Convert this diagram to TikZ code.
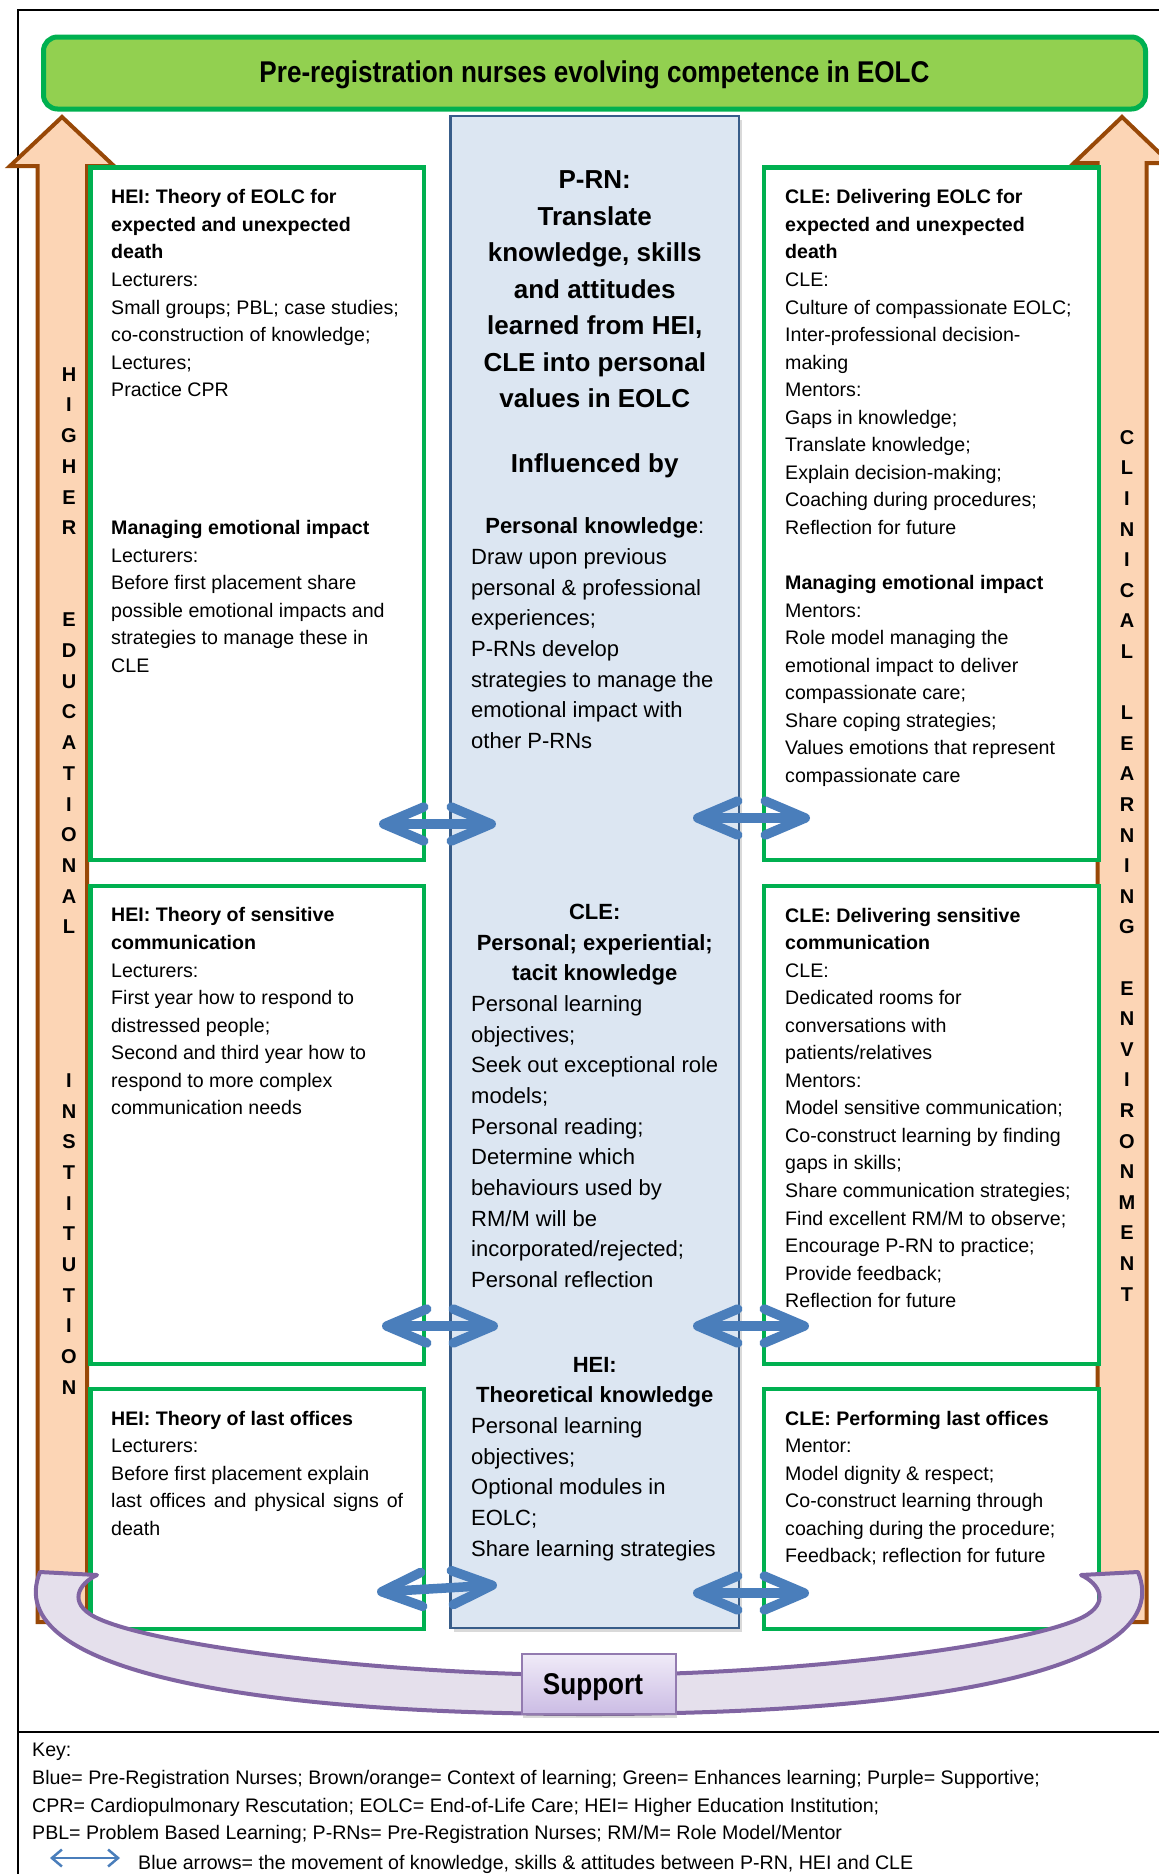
\documentclass[tikz,border=0pt]{standalone}
\usepackage{fontspec}
\usepackage{graphicx}
\setmainfont{Liberation Sans}
\usetikzlibrary{arrows.meta,shadows}
\definecolor{grn}{RGB}{0,176,80}
\definecolor{ltgrn}{RGB}{146,208,80}
\definecolor{peach}{RGB}{252,213,181}
\definecolor{brn}{RGB}{152,72,7}
\definecolor{cfill}{RGB}{220,230,242}
\definecolor{cdraw}{RGB}{56,93,138}
\definecolor{barrow}{RGB}{74,126,187}
\definecolor{pfill}{RGB}{229,224,236}
\definecolor{pdraw}{RGB}{128,100,162}
\definecolor{sTop}{RGB}{240,235,248}
\definecolor{sBot}{RGB}{203,188,228}
\begin{document}
\begin{tikzpicture}[x=1pt,y=-1pt,
  gbox/.style={draw=grn,line width=4.5pt,fill=white,inner sep=0pt},
  stxt/.style={anchor=north west,inner sep=0pt,align=left,font=\fontsize{19.6}{27.55}\selectfont},
  ctxt/.style={anchor=north west,inner sep=0pt,align=left,font=\fontsize{22}{30.67}\selectfont},
  chead/.style={anchor=north,inner sep=0pt,align=center,font=\fontsize{22}{30.67}\selectfont\bfseries},
  vlet/.style={anchor=base,inner sep=0pt,font=\fontsize{20}{24}\selectfont\bfseries},
  barr/.style={draw=barrow,line width=9.5pt,arrows={Straight Barb[length=40pt,width=34pt,round]-Straight Barb[length=40pt,width=34pt,round]}},
  ktxt/.style={anchor=north west,inner sep=0pt,align=left,font=\fontsize{19.6}{27.9}\selectfont},
  oarrow/.style={draw=brn,fill=peach,line width=4pt,line join=miter},
]
\useasboundingbox (0,0) rectangle (1159,1874);
% frame
\draw[line width=2.7pt] (1170,10) -- (18,10) -- (18,1890);
\draw[line width=2.7pt] (18,1732) -- (1170,1732);
% title
\node[draw=grn,fill=ltgrn,line width=5pt,rounded corners=14pt,minimum width=1102pt,minimum height=72pt,inner sep=0pt] (title) at (594.5,73) {};
\node[anchor=base,inner sep=0pt] (titletxt) at (594.5,82) {\scalebox{0.87}[1]{\fontsize{30}{36}\selectfont\bfseries Pre-registration nurses evolving competence in EOLC}};
% orange context arrows
\draw[oarrow] (37.5,1622) -- (37.5,166) -- (10,166) -- (62,117) -- (114,166) -- (87,166) -- (87,1622) -- cycle;
\draw[oarrow] (1097.5,1622) -- (1097.5,163) -- (1074,163) -- (1122,117) -- (1170,163) -- (1146.5,163) -- (1146.5,1622) -- cycle;
% green boxes
\node[gbox,minimum width=333.5pt,minimum height=692.5pt] (L1) at (257.25,513.75) {};
\node[gbox,minimum width=333.5pt,minimum height=478pt] (L2) at (257.25,1125) {};
\node[gbox,minimum width=333.5pt,minimum height=240pt] (L3) at (257.25,1509) {};
\node[gbox,minimum width=335pt,minimum height=692.5pt] (R1) at (931.5,513.75) {};
\node[gbox,minimum width=335pt,minimum height=478pt] (R2) at (931.5,1125) {};
\node[gbox,minimum width=335pt,minimum height=240pt] (R3) at (931.5,1509) {};
% centre box
\node[draw=cdraw,fill=cfill,line width=2.5pt,minimum width=288.5pt,minimum height=1512pt,inner sep=0pt,drop shadow={shadow xshift=3pt,shadow yshift=-4pt,opacity=0.3}] (C) at (594.75,872) {};
% vertical letters
\foreach \ltr/\k in {H/0,I/1,G/2,H/3,E/4,R/5,E/8,D/9,U/10,C/11,A/12,T/13,I/14,O/15,N/16,A/17,L/18,I/23,N/24,S/25,T/26,I/27,T/28,U/29,T/30,I/31,O/32,N/33}
  \node[vlet] (lv\k) at (69,{381.2+\k*30.7}) {\ltr};
\foreach \ltr/\k in {C/0,L/1,I/2,N/3,I/4,C/5,A/6,L/7,L/9,E/10,A/11,R/12,N/13,I/14,N/15,G/16,E/18,N/19,V/20,I/21,R/22,O/23,N/24,M/25,E/26,N/27,T/28}
  \node[vlet] (rv\k) at (1127,{444.2+\k*30.6}) {\ltr};
% blue arrows
\coordinate (a1l) at (379,824); \coordinate (a1r) at (496,824);
\coordinate (b1l) at (693,818); \coordinate (b1r) at (810,818);
\coordinate (a2l) at (382,1326); \coordinate (a2r) at (498,1326);
\coordinate (b2l) at (693,1326); \coordinate (b2r) at (809,1326);
\coordinate (a3l) at (377,1592); \coordinate (a3r) at (497,1585);
\coordinate (b3l) at (693,1593); \coordinate (b3r) at (809,1593);
\draw[barr] (a1l) -- (a1r);
\draw[barr] (b1l) -- (b1r);
\draw[barr] (a2l) -- (a2r);
\draw[barr] (b2l) -- (b2r);
\draw[barr] (a3l) -- (a3r);
\draw[barr] (b3l) -- (b3r);
% support band
\draw[draw=pdraw,fill=pfill,line width=4pt,line join=round]
  (40,1572) -- (97,1575) .. controls (78,1584) and (68,1603) .. (95,1617)
  .. controls (150,1645) and (380,1675) .. (589,1675)
  .. controls (798,1675) and (1028,1645) .. (1083,1617)
  .. controls (1110,1603) and (1100,1584) .. (1081,1575)
  -- (1138,1572) .. controls (1178,1670) and (928,1714) .. (589,1714)
  .. controls (250,1714) and (0,1670) .. (40,1572) -- cycle;
\node[draw=pdraw!85,line width=2.5pt,top color=sTop,bottom color=sBot,minimum width=154pt,minimum height=60pt,inner sep=0pt,drop shadow={shadow xshift=1pt,shadow yshift=-4pt,opacity=0.3}] (support) at (599,1684) {};
\node[anchor=base,inner sep=0pt] (supporttxt) at (593,1694.5) {\scalebox{0.87}[1]{\fontsize{30}{36}\selectfont\bfseries Support}};
% side texts
\node[stxt] (L1t) at (111,184.4) {\strut\textbf{HEI: Theory of EOLC for}\\\textbf{expected and unexpected}\\\textbf{death}\\Lecturers:\\Small groups; PBL; case studies;\\co-construction of knowledge;\\Lectures;\\Practice CPR};
\node[stxt] (L1u) at (111,515.0) {\strut\textbf{Managing emotional impact}\\Lecturers:\\Before first placement share\\possible emotional impacts and\\strategies to manage these in\\CLE};
\node[stxt] (L2t) at (111,902.5) {\strut\textbf{HEI: Theory of sensitive}\\\textbf{communication}\\Lecturers:\\First year how to respond to\\distressed people;\\Second and third year how to\\respond to more complex\\communication needs};
\node[stxt] (L3t) at (111,1405.5) {\strut\textbf{HEI: Theory of last offices}\\Lecturers:\\Before first placement explain\\\makebox[292pt][s]{last offices and physical signs of}\\death};
\node[stxt] (R1t) at (785,184.4) {\strut\textbf{CLE: Delivering EOLC for}\\\textbf{expected and unexpected}\\\textbf{death}\\CLE:\\Culture of compassionate EOLC;\\Inter-professional decision-\\making\\Mentors:\\Gaps in knowledge;\\Translate knowledge;\\Explain decision-making;\\Coaching during procedures;\\Reflection for future};
\node[stxt] (R1u) at (785,570.1) {\strut\textbf{Managing emotional impact}\\Mentors:\\Role model managing the\\emotional impact to deliver\\compassionate care;\\Share coping strategies;\\Values emotions that represent\\compassionate care};
\node[stxt] (R2t) at (785,902.5) {\strut\textbf{CLE: Delivering sensitive}\\\textbf{communication}\\CLE:\\Dedicated rooms for\\conversations with\\patients/relatives\\Mentors:\\Model sensitive communication;\\Co-construct learning by finding\\gaps in skills;\\Share communication strategies;\\Find excellent RM/M to observe;\\Encourage P-RN to practice;\\Provide feedback;\\Reflection for future};
\node[stxt] (R3t) at (785,1405.5) {\strut\textbf{CLE: Performing last offices}\\Mentor:\\Model dignity \& respect;\\Co-construct learning through\\coaching during the procedure;\\Feedback; reflection for future};
% centre texts
\node[anchor=north,inner sep=0pt,align=center,font=\fontsize{26}{36.5}\selectfont\bfseries] (Chead) at (594.75,162.75) {\strut P-RN:\\Translate\\knowledge, skills\\and attitudes\\learned from HEI,\\CLE into personal\\values in EOLC};
\node[anchor=base,inner sep=0pt,font=\fontsize{26}{36.5}\selectfont\bfseries] (Cinf) at (594.75,472) {Influenced by};
\node[anchor=base,inner sep=0pt,font=\fontsize{22}{30.67}\selectfont] (Cpk) at (594.75,533.5) {\textbf{Personal knowledge}:};
\node[ctxt] (Cpkb) at (471,542.7) {\strut Draw upon previous\\personal \& professional\\experiences;\\P-RNs develop\\strategies to manage the\\emotional impact with\\other P-RNs};
\node[chead] (Ccle) at (594.75,897.9) {\strut CLE:\\Personal; experiential;\\tacit knowledge};
\node[ctxt] (Ccleb) at (471,989.9) {\strut Personal learning\\objectives;\\Seek out exceptional role\\models;\\Personal reading;\\Determine which\\behaviours used by\\RM/M will be\\incorporated/rejected;\\Personal reflection};
\node[chead] (Chei) at (594.75,1350.5) {\strut HEI:\\Theoretical knowledge};
\node[ctxt] (Cheib) at (471,1411.9) {\strut Personal learning\\objectives;\\Optional modules in\\EOLC;\\Share learning strategies};
% key
\node[ktxt] (key) at (32,1736.5) {\strut Key:\\Blue= Pre-Registration Nurses; Brown/orange= Context of learning; Green= Enhances learning; Purple= Supportive;\\CPR= Cardiopulmonary Rescutation; EOLC= End-of-Life Care; HEI= Higher Education Institution;\\PBL= Problem Based Learning; P-RNs= Pre-Registration Nurses; RM/M= Role Model/Mentor};
\coordinate (ka) at (50,1858); \coordinate (kb) at (120,1858);
\draw[draw=barrow,line width=2.5pt,arrows={Straight Barb[length=10pt,width=17pt]-Straight Barb[length=10pt,width=17pt]}] (ka) -- (kb);
\node[anchor=base west,inner sep=0pt,font=\fontsize{19.6}{27.9}\selectfont] (kblue) at (138,1869) {Blue arrows= the movement of knowledge, skills \& attitudes between P-RN, HEI and CLE};
\end{tikzpicture}
\end{document}
